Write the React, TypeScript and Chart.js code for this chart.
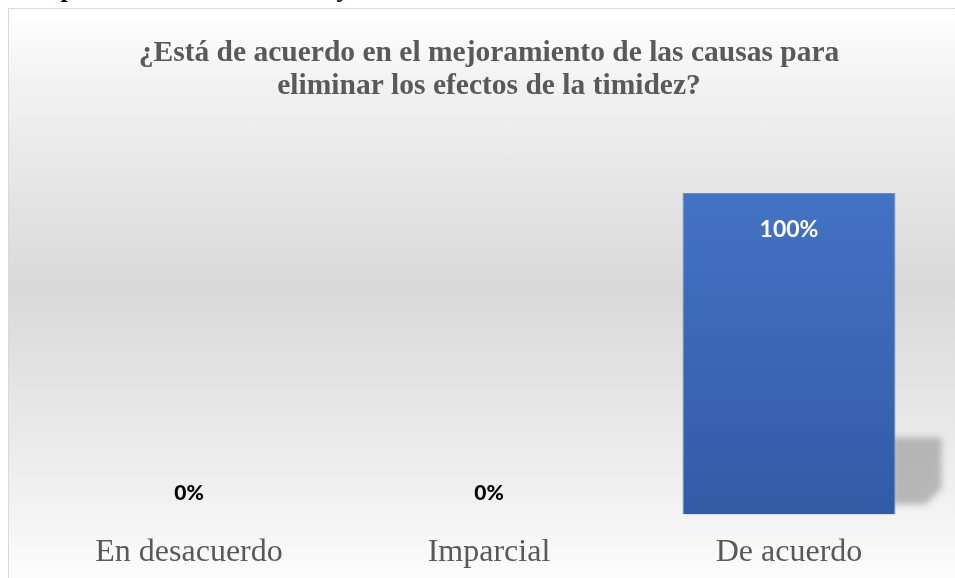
import React, { useEffect, useRef } from "react";
import { Chart, registerables } from "chart.js";

Chart.register(...registerables);

const categories = ["En desacuerdo", "Imparcial", "De acuerdo"];
const values = [0, 0, 100];
const valueLabels = ["0%", "0%", "100%"];
const titleLines = [
  "¿Está de acuerdo en el mejoramiento de las causas para",
  "eliminar los efectos de la timidez?",
];

const shadowPlugin = {
  id: "barShadow",
  beforeDatasetsDraw(chart: any) {
    const meta = chart.getDatasetMeta(0);
    const ctx = chart.ctx;
    meta.data.forEach((bar: any, i: number) => {
      if (!values[i]) return;
      const right = bar.x + bar.width / 2;
      const base = bar.base;
      ctx.save();
      ctx.filter = "blur(3px)";
      ctx.fillStyle = "rgba(145,145,145,0.6)";
      ctx.beginPath();
      ctx.moveTo(right - 4, base - 77);
      ctx.lineTo(right + 46, base - 77);
      ctx.lineTo(right + 46, base - 26);
      ctx.lineTo(right + 30, base - 10);
      ctx.lineTo(right - 4, base - 10);
      ctx.closePath();
      ctx.fill();
      ctx.restore();
    });
  },
};

const labelPlugin = {
  id: "valueLabels",
  afterDatasetsDraw(chart: any) {
    const meta = chart.getDatasetMeta(0);
    const ctx = chart.ctx;
    ctx.save();
    ctx.textAlign = "center";
    ctx.textBaseline = "middle";
    meta.data.forEach((bar: any, i: number) => {
      if (values[i] > 0) {
        ctx.font = "bold 23px Lato, 'Open Sans', sans-serif";
        ctx.fillStyle = "#ffffff";
        ctx.fillText(valueLabels[i], bar.x, bar.y + 36);
      } else {
        ctx.font = "900 21px Lato, 'Open Sans', sans-serif";
        ctx.fillStyle = "#000000";
        ctx.fillText(valueLabels[i], bar.x, bar.base - 21);
      }
    });
    ctx.restore();
  },
};

export default function App() {
  const ref = useRef<HTMLCanvasElement>(null);
  useEffect(() => {
    const canvas = ref.current!;
    const ctx = canvas.getContext("2d")!;
    const chart = new Chart(canvas, {
      type: "bar",
      data: {
        labels: categories,
        datasets: [
          {
            data: values,
            backgroundColor: (c: any) => {
              const area = c.chart.chartArea;
              if (!area) return "#4472C4";
              const g = ctx.createLinearGradient(0, area.top, 0, area.bottom);
              g.addColorStop(0, "#4472C4");
              g.addColorStop(1, "#325BA6");
              return g;
            },
            borderColor: "#6A8ED0",
            borderWidth: 1,
            categoryPercentage: 1,
            barPercentage: 0.71,
          },
        ],
      },
      options: {
        animation: false,
        responsive: false,
        maintainAspectRatio: false,
        layout: { padding: { left: 30, right: 30, top: 0, bottom: 0 } },
        plugins: {
          legend: { display: false },
          tooltip: { enabled: false },
          title: {
            display: true,
            text: titleLines,
            color: "#595959",
            font: { family: "'Liberation Serif', 'DejaVu Serif', serif", size: 29.5, weight: "bold", lineHeight: 1.12 },
            padding: { top: 28, bottom: 90 },
          },
        },
        scales: {
          x: {
            grid: { display: false },
            border: { display: false },
            ticks: {
              color: "#595959",
              padding: 11,
              font: { family: "'Liberation Serif', 'DejaVu Serif', serif", size: 32 },
            },
          },
          y: {
            display: false,
            min: 0,
            max: 100,
          },
        },
      },
      plugins: [shadowPlugin, labelPlugin],
    });
    return () => chart.destroy();
  }, []);

  return (
    <div
      style={{
        position: "absolute",
        left: 0,
        top: 0,
        width: 955,
        height: 578,
        overflow: "hidden",
        background: "#ffffff",
      }}
    >
      <div
        style={{
          position: "absolute",
          left: 20,
          top: -24,
          fontFamily: "'Liberation Serif', serif",
          fontWeight: "bold",
          fontSize: 26,
          lineHeight: 1,
          color: "#000",
          whiteSpace: "nowrap",
        }}
      >
        Respuestas estimadas Sobre y Favorecida
      </div>
      <div
        style={{
          position: "absolute",
          left: 8,
          top: 8,
          width: 980,
          height: 620,
          border: "1px solid #d9d9d9",
          background:
            "linear-gradient(to bottom, #ffffff 0%, #f2f2f2 12%, #d9d9d9 45%, #f0f0f0 78%, #ffffff 95%)",
        }}
      >
        <canvas ref={ref} width={960} height={574} style={{ display: "block" }} />
      </div>
    </div>
  );
}
